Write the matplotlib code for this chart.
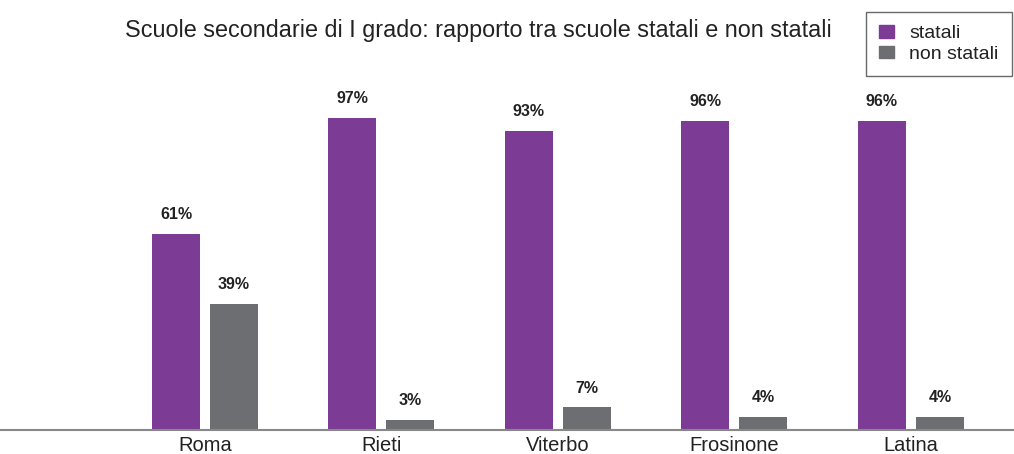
import numpy as np
import matplotlib.pyplot as plt
from matplotlib.patches import Patch

plt.rcParams['font.family'] = ['Liberation Sans', 'DejaVu Sans']

provinces = ['Roma', 'Rieti', 'Viterbo', 'Frosinone', 'Latina']
statali = [61, 97, 93, 96, 96]
non_statali = [39, 3, 7, 4, 4]
title = 'Scuole secondarie di I grado: rapporto tra scuole statali e non statali'

purple = '#7c3c95'
grey = '#6d6e71'

W, H = 1014, 454
fig = plt.figure(figsize=(W / 100, H / 100), dpi=100)
# axes spans the full width, baseline at y=430 px, 100% = 322 px
ax = fig.add_axes([0, (H - 430) / H, 1, 322 / H])

x = np.arange(len(provinces))
step = 176.5
bw = 48 / step
off = 29 / step

b1 = ax.bar(x - off, statali, bw, color=purple, zorder=2)
b2 = ax.bar(x + off, non_statali, bw, color=grey, zorder=2)

for bars, vals in ((b1, statali), (b2, non_statali)):
    for b, v in zip(bars, vals):
        ax.annotate('%d%%' % v, (b.get_x() + b.get_width() / 2, v),
                    xytext=(0, 14), textcoords='offset points',
                    ha='center', va='center', fontsize=11.5,
                    fontweight='bold', color='#222222', annotation_clip=False)

ax.set_xlim(-205 / step, (W - 205) / step)
ax.set_ylim(0, 100)
ax.set_xticks(x)
ax.set_xticklabels(provinces, fontsize=14.5, color='#222222')
ax.tick_params(axis='x', length=0, pad=4)
ax.set_yticks([])
for s in ('top', 'right', 'left'):
    ax.spines[s].set_visible(False)
ax.spines['bottom'].set_color('#888888')
ax.spines['bottom'].set_linewidth(1.5)

fig.text(478 / W, 1 - 31 / H, title, ha='center', va='center',
         fontsize=16.8, color='#222222')

handles = [Patch(color=purple, label='statali'),
           Patch(color=grey, label='non statali')]
leg = fig.legend(handles=handles, loc='upper right',
                 bbox_to_anchor=(1012 / W, 1 - 12 / H), fontsize=14,
                 frameon=True, fancybox=False, handlelength=0.77,
                 handleheight=0.6, handletextpad=0.8, labelspacing=0.2,
                 borderpad=0.68, borderaxespad=0)
leg.get_frame().set_edgecolor('#444444')
leg.get_frame().set_linewidth(1.0)
for t in leg.get_texts():
    t.set_color('#222222')

fig.savefig('out.png', dpi=100)
